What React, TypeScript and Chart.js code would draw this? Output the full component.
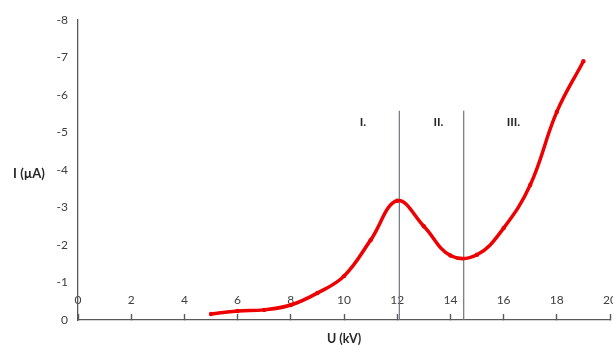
import React, { useEffect, useRef } from "react";
import { Chart, registerables } from "chart.js";

Chart.register(...registerables);

// Data
const voltage = [5, 6, 7, 8, 9, 10, 11, 12, 13, 14, 15, 16, 17, 18, 19];
const current = [-0.16, -0.24, -0.27, -0.4, -0.72, -1.17, -2.13, -3.18, -2.5, -1.72, -1.74, -2.45, -3.6, -5.55, -6.9];
const boundaryX = [12.08, 14.5];
const boundaryTop = -5.58;
const regionLabels = ["I.", "II.", "III."];
const regionLabelX = [10.71, 13.55, 16.37];
const regionLabelY = -5.28;
const yTitle = "I (µA)";
const yTitleAt = -4;
const xTitle = "U (kV)";

const FONT = "Lato, 'Open Sans', sans-serif";
const TEXT = "#404040";
const AXIS = "#595959";

const textPlugin = {
  id: "textPlugin",
  afterDatasetsDraw(chart: any) {
    const ctx = chart.ctx;
    const xs = chart.scales.x;
    const ys = chart.scales.y;
    ctx.save();
    ctx.fillStyle = "#262626";
    ctx.font = `bold 12px ${FONT}`;
    ctx.textAlign = "center";
    ctx.textBaseline = "middle";
    regionLabels.forEach((t, i) => {
      ctx.fillText(t, xs.getPixelForValue(regionLabelX[i]), ys.getPixelForValue(regionLabelY));
    });
    ctx.font = `bold 13px ${FONT}`;
    ctx.fillText(yTitle, 29, ys.getPixelForValue(yTitleAt) + 4);
    ctx.restore();
  },
};

export default function App() {
  const ref = useRef<HTMLCanvasElement | null>(null);
  useEffect(() => {
    if (!ref.current) return;
    const boundaryDatasets = boundaryX.map((bx) => ({
      type: "line" as const,
      data: [
        { x: bx, y: boundaryTop },
        { x: bx, y: 0 },
      ],
      borderColor: "#6b7785",
      borderWidth: 1.2,
      pointRadius: 0,
      tension: 0,
      order: 2,
    }));
    const chart = new Chart(ref.current, {
      type: "line",
      data: {
        datasets: [
          {
            data: voltage.map((v, i) => ({ x: v, y: current[i] })),
            borderColor: "#ee0000",
            backgroundColor: "#ee0000",
            borderWidth: 3.5,
            pointRadius: 2.2,
            pointBorderWidth: 0,
            tension: 0.4,
            order: 1,
          },
          ...boundaryDatasets,
        ],
      },
      options: {
        responsive: false,
        animation: false,
        layout: { padding: { top: 20, right: 3, left: 0, bottom: 0 }, autoPadding: false },
        plugins: { legend: { display: false }, tooltip: { enabled: false } },
        scales: {
          x: {
            type: "linear",
            min: 0,
            max: 20,
            afterFit: (s: any) => {
              s.height = 25;
              s.paddingLeft = 0;
              s.paddingRight = 0;
            },
            ticks: {
              stepSize: 2,
              mirror: true,
              padding: 13,
              color: TEXT,
              font: { family: FONT, size: 12 },
              maxRotation: 0,
              autoSkip: false,
            },
            grid: {
              drawOnChartArea: false,
              drawTicks: true,
              tickLength: -6,
              tickWidth: 1.4,
              tickColor: AXIS,
              color: AXIS,
            },
            border: { display: true, color: AXIS, width: 1.3 },
            title: {
              display: true,
              text: xTitle,
              color: "#262626",
              font: { family: FONT, size: 12.5, weight: "bold" },
              padding: { top: 0, bottom: -1.5 },
            },
          },
          y: {
            type: "linear",
            min: -8,
            max: 0,
            reverse: true,
            afterFit: (s: any) => {
              s.width = 78;
              s.paddingTop = 0;
              s.paddingBottom = 0;
            },
            ticks: {
              stepSize: 1,
              padding: 10,
              color: TEXT,
              font: { family: FONT, size: 12 },
            },
            grid: { display: false, drawTicks: false },
            border: { display: true, color: AXIS, width: 1.3 },
          },
        },
      },
      plugins: [textPlugin],
    } as any);
    return () => chart.destroy();
  }, []);
  return (
    <div style={{ position: "fixed", left: 0, top: 0, width: 613, height: 345, background: "#fff" }}>
      <canvas ref={ref} width={613} height={345} style={{ display: "block" }} />
    </div>
  );
}
